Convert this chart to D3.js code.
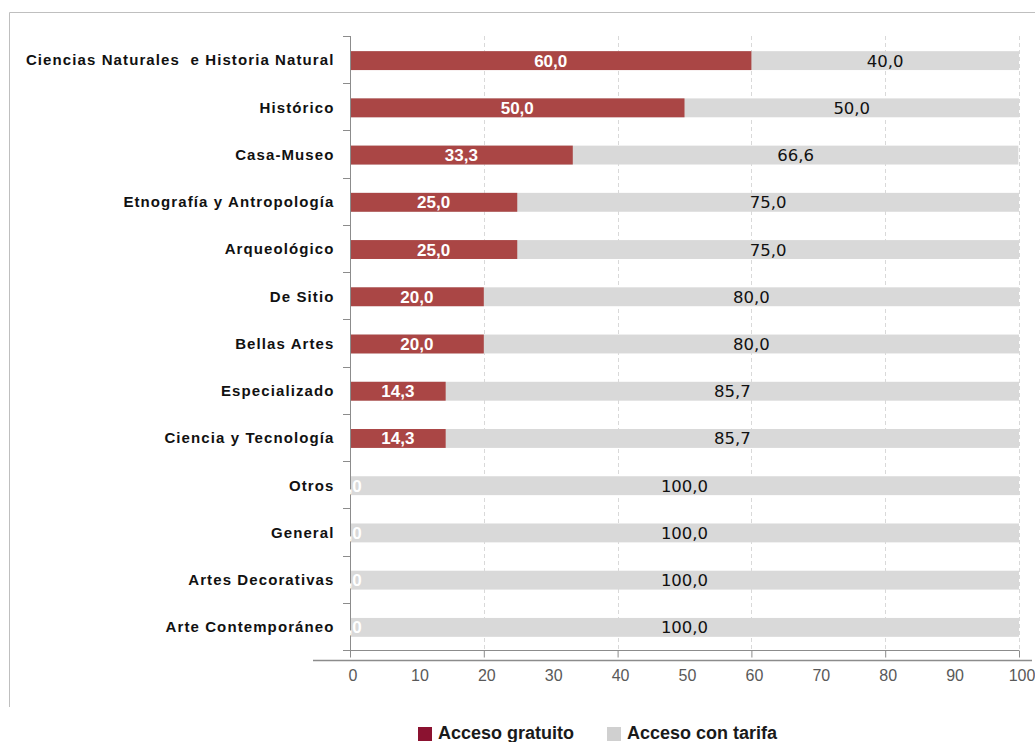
<!DOCTYPE html>
<html><head><meta charset="utf-8">
<script src="https://cdn.jsdelivr.net/npm/d3@7"></script>
<style>body{margin:0;background:#fff;}svg{display:block;}</style>
</head><body>
<svg id="c" width="1035" height="742"></svg>
<script>
const categories = ["Ciencias Naturales  e Historia Natural","Histórico","Casa-Museo","Etnografía y Antropología","Arqueológico","De Sitio","Bellas Artes","Especializado","Ciencia y Tecnología","Otros","General","Artes Decorativas","Arte Contemporáneo"];
const gratuito = [60.0,50.0,33.3,25.0,25.0,20.0,20.0,14.3,14.3,0,0,0,0];
const tarifa = [40.0,50.0,66.6,75.0,75.0,80.0,80.0,85.7,85.7,100.0,100.0,100.0,100.0];
const seriesNames = ["Acceso gratuito","Acceso con tarifa"];
const gridTicks = [0,20,40,60,80,100];
const labelTicks = [0,10,20,30,40,50,60,70,80,90,100];

const svg = d3.select("#c");
const fmt = v => v.toFixed(1).replace(".", ",");
const x = d3.scaleLinear().domain([0,100]).range([350,1019]);
const y = d3.scaleBand().domain(categories).range([36,650]).paddingInner(0.6).paddingOuter(0.3);

// frame
svg.append("path").attr("d","M9.5,707 V12.5 H1035").attr("fill","none").attr("stroke","#bfbfbf").attr("stroke-width",1);

// gridlines
svg.append("g").selectAll("line").data(gridTicks.slice(1)).join("line")
  .attr("x1",d=>Math.round(x(d))+0.5).attr("x2",d=>Math.round(x(d))+0.5)
  .attr("y1",36).attr("y2",650)
  .attr("stroke","#d9d9d9").attr("stroke-dasharray","4,3");

const rows = categories.map((c,i)=>({c, g:gratuito[i], t:tarifa[i]}));

// bars
svg.append("g").selectAll("rect").data(rows).join("rect")
  .attr("x",x(0)).attr("y",d=>y(d.c)+1).attr("height",y.bandwidth())
  .attr("width",d=>x(d.g+d.t)-x(0)).attr("fill","#d9d9d9");
svg.append("g").selectAll("rect").data(rows).join("rect")
  .attr("x",x(0)).attr("y",d=>y(d.c)+1).attr("height",y.bandwidth())
  .attr("width",d=>x(d.g)-x(0)).attr("fill","#aa4645");

// left axis
const yAxis = d3.axisLeft(y).tickSize(0).tickPadding(16);
const gy = svg.append("g").attr("transform","translate(350.5,1)").call(yAxis);
gy.select(".domain").attr("stroke","#8c8c8c").attr("d","M0,35V649");
gy.selectAll("text").attr("font-family","'Liberation Sans',Arial,sans-serif")
  .attr("font-weight","bold").attr("font-size","15px").attr("fill","#111")
  .style("letter-spacing","1.1px").style("white-space","pre");
// band boundary ticks
const bounds = d3.range(categories.length+1).map(i=> 36 + i*(614/categories.length));
svg.append("g").selectAll("line").data(bounds).join("line")
  .attr("x1",343).attr("x2",350).attr("y1",d=>Math.round(d)+0.5).attr("y2",d=>Math.round(d)+0.5)
  .attr("stroke","#8c8c8c");

// inner bottom axis
const xAxis = d3.axisBottom(x).tickValues(gridTicks).tickSize(7).tickFormat("");
const gx = svg.append("g").attr("transform","translate(0,650.5)").call(xAxis);
gx.select(".domain").attr("stroke","#8c8c8c").attr("d","M343,0H1019");
gx.selectAll(".tick line").attr("stroke","#8c8c8c");

// outer axis with labels
svg.append("line").attr("x1",313).attr("x2",1032).attr("y1",660.5).attr("y2",660.5).attr("stroke","#8c8c8c").attr("stroke-width",1.5);
svg.append("g").selectAll("text").data(labelTicks).join("text")
  .attr("x",d=>x(d)+3).attr("y",681).attr("text-anchor","middle")
  .attr("font-family","'Liberation Sans',Arial,sans-serif").attr("font-size","16px").attr("fill","#595959")
  .text(d=>d);

// value labels
svg.append("g").selectAll("text").data(rows).join("text")
  .attr("x",d=>(x(0)+x(d.g))/2).attr("y",d=>y(d.c)+y.bandwidth()/2+7)
  .attr("text-anchor","middle").attr("font-family","'Liberation Sans',Arial,sans-serif")
  .attr("font-weight","bold").attr("font-size","17px").attr("fill","#fff")
  .text(d=>fmt(d.g));
svg.append("g").selectAll("text").data(rows).join("text")
  .attr("x",d=>(x(d.g)+x(d.g+d.t))/2).attr("y",d=>y(d.c)+y.bandwidth()/2+7)
  .attr("text-anchor","middle").attr("font-family","'DejaVu Sans',Tahoma,sans-serif")
  .attr("font-size","16.5px").attr("fill","#111")
  .text(d=>fmt(d.t));

// legend
const legColors = ["#8b1230","#d0d0d0"];
const legX = [418,607];
const lg = svg.append("g");
seriesNames.forEach((n,i)=>{
  lg.append("rect").attr("x",legX[i]).attr("y",727).attr("width",14).attr("height",14).attr("fill",legColors[i]);
  lg.append("text").attr("x",legX[i]+20).attr("y",739).attr("font-family","'Liberation Sans',Arial,sans-serif")
    .attr("font-weight","bold").attr("font-size","18px").attr("fill","#1a1a1a").text(n);
});
</script>
</body></html>
